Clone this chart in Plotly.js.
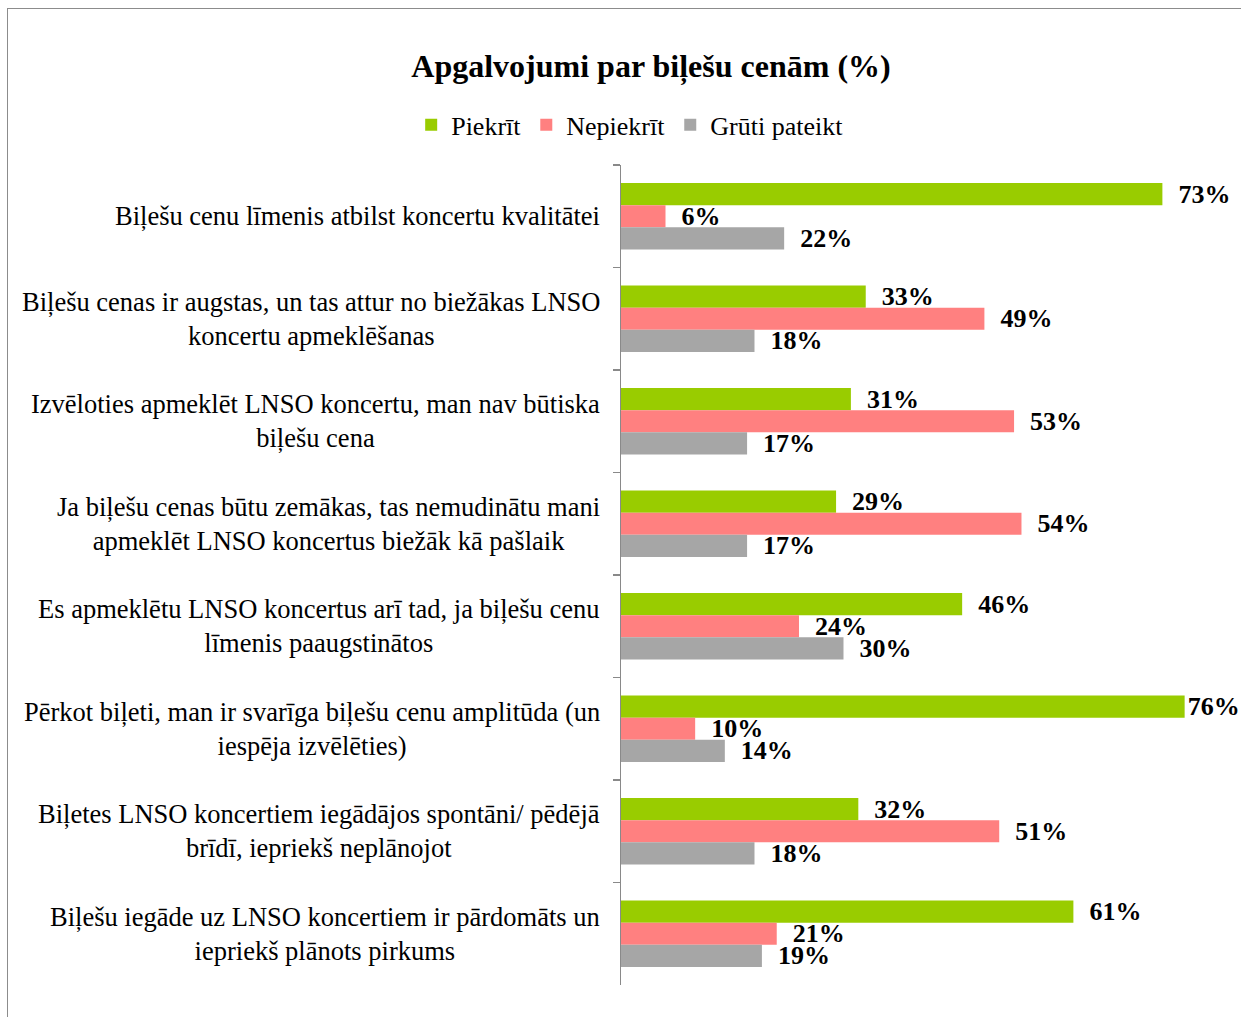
<!DOCTYPE html>
<html>
<head>
<meta charset="utf-8">
<script src="https://cdn.plot.ly/plotly-3.0.1.min.js"></script>
<style>
  html, body { margin: 0; padding: 0; background: #fff; overflow: hidden; }
  #frame { position: absolute; left: 7px; top: 8px; width: 1300px; height: 1100px; border: 1.5px solid #8c8c8c; }
  #chart { position: absolute; left: 0; top: 0; width: 1241px; height: 1017px; }
</style>
</head>
<body>
<div id="frame"></div>
<div id="chart"></div>
<script>
const statements = [
  "Biļešu cenu līmenis atbilst koncertu kvalitātei",
  "Biļešu cenas ir augstas, un tas attur no biežākas LNSO<br>koncertu apmeklēšanas",
  "Izvēloties apmeklēt LNSO koncertu, man nav būtiska<br>biļešu cena",
  "Ja biļešu cenas būtu zemākas, tas nemudinātu mani<br>apmeklēt LNSO koncertus biežāk kā pašlaik",
  "Es apmeklētu LNSO koncertus arī tad, ja biļešu cenu<br>līmenis paaugstinātos",
  "Pērkot biļeti, man ir svarīga biļešu cenu amplitūda (un<br>iespēja izvēlēties)",
  "Biļetes LNSO koncertiem iegādājos spontāni/ pēdējā<br>brīdī, iepriekš neplānojot",
  "Biļešu iegāde uz LNSO koncertiem ir pārdomāts un<br>iepriekš plānots pirkums"
];

const piekrit = [73, 33, 31, 29, 46, 76, 32, 61];
const nepiekrit = [6, 49, 53, 54, 24, 10, 51, 21];
const grutiPateikt = [22, 18, 17, 17, 30, 14, 18, 19];

const seriesNames = ["Piekrīt", "Nepiekrīt", "Grūti pateikt"];
const seriesColors = ["#99cc00", "#ff8080", "#a6a6a6"];
const seriesValues = [piekrit, nepiekrit, grutiPateikt];

const serif = "Liberation Serif, Times New Roman, serif";

// labels sit a little away from the bar end, except the longest one which hits the edge
const xMax = 83.6;
const labelText = v => (v > xMax - 8 ? "" : "\u00a0\u00a0") + v + "%";

const traces = seriesValues.map((vals, i) => ({
  type: "bar",
  orientation: "h",
  name: seriesNames[i],
  x: vals,
  y: statements,
  marker: { color: seriesColors[i], line: { width: 0 } },
  text: vals.map(labelText),
  texttemplate: "%{text}",
  textposition: "outside",
  constraintext: "none",
  cliponaxis: false,
  textfont: { family: serif, size: 26, color: "#000", weight: "bold" },
  hoverinfo: "skip"
}));

// category labels centred line by line, like the original
const labelNotes = statements.map(s => ({
  xref: "paper", yref: "y",
  x: 0, y: s,
  xanchor: "right", yanchor: "middle",
  xshift: -19,
  align: "center",
  text: s,
  showarrow: false,
  font: { family: serif, size: 26.5, color: "#000" }
}));

const layout = {
  width: 1241,
  height: 1017,
  margin: { l: 621, r: 0, t: 165, b: 32 },
  paper_bgcolor: "rgba(0,0,0,0)",
  plot_bgcolor: "rgba(0,0,0,0)",
  barmode: "group",
  bargap: 0.35,
  bargroupgap: 0,
  title: {
    text: "<b>Apgalvojumi par biļešu cenām (%)</b>",
    font: { family: serif, size: 32, color: "#000" },
    x: 0.5246, xanchor: "center",
    y: 0.935, yanchor: "middle"
  },
  showlegend: true,
  legend: {
    orientation: "h",
    x: 0.014, xanchor: "center",
    y: 1.049, yanchor: "middle",
    font: { family: serif, size: 26, color: "#000" },
    itemwidth: 30,
    traceorder: "normal"
  },
  xaxis: {
    range: [0, xMax],
    showgrid: false,
    zeroline: false,
    showline: false,
    showticklabels: false,
    ticks: ""
  },
  yaxis: {
    type: "category",
    autorange: "reversed",
    showgrid: false,
    zeroline: false,
    showline: true,
    linecolor: "#898989",
    linewidth: 1.5,
    ticks: "outside",
    tickson: "boundaries",
    ticklen: 7,
    tickcolor: "#898989",
    tickwidth: 1.5,
    showticklabels: false
  },
  annotations: labelNotes
};

Plotly.newPlot("chart", traces, layout, { displayModeBar: false, staticPlot: true });
</script>
</body>
</html>
